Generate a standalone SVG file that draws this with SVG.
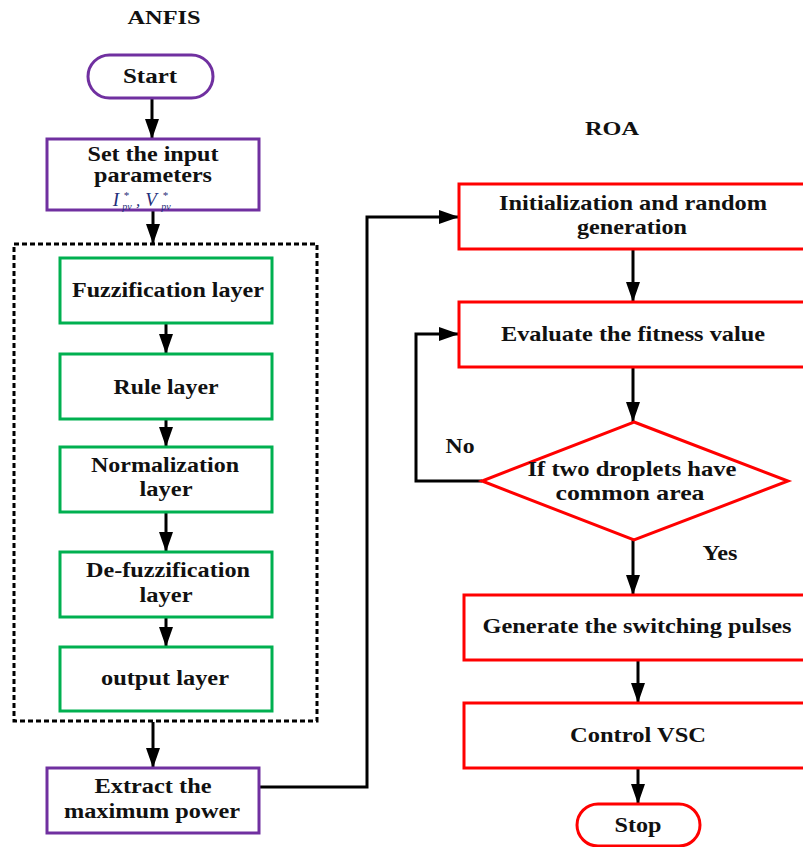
<svg xmlns="http://www.w3.org/2000/svg" width="803" height="847" viewBox="0 0 803 847">
<defs>
<marker id="ah" markerUnits="userSpaceOnUse" markerWidth="20" markerHeight="14" refX="20" refY="7" orient="auto">
<path d="M0,0 L20,7 L0,14 z" fill="#000"/>
</marker>
<style>
text{font-family:"Liberation Serif","Times New Roman",serif;font-weight:bold;fill:#111;text-anchor:middle}
.t{font-size:20px}
.r{font-size:21px}
.h{font-size:19px}
.pur{fill:#fff;stroke:#7030A0;stroke-width:3}
.grn{fill:#fff;stroke:#00B050;stroke-width:3}
.red{fill:#fff;stroke:#FF0000;stroke-width:3}
.dash{fill:none;stroke:#000;stroke-width:3;stroke-dasharray:5 3}
.c{fill:none;stroke:#000;stroke-width:3;marker-end:url(#ah)}
.m{font-family:"Liberation Serif","Times New Roman",serif;font-style:italic;font-weight:normal;fill:#1f2f7a}
</style>
</defs>
<rect width="803" height="847" fill="#fff"/>
<text class="h" x="164" y="24" textLength="73" lengthAdjust="spacingAndGlyphs">ANFIS</text>
<text class="h" x="612" y="135" textLength="54" lengthAdjust="spacingAndGlyphs">ROA</text>

<g id="container">
<rect class="dash" x="14" y="244" width="303" height="477"/>
</g>

<g id="connectors">
<path class="c" d="M152,98 V139"/>
<path class="c" d="M153,210 V244"/>
<path class="c" d="M166,323 V354"/>
<path class="c" d="M166,419 V447"/>
<path class="c" d="M166,512 V552"/>
<path class="c" d="M166,617 V647"/>
<path class="c" d="M153,722 V768"/>
<path class="c" d="M259,787 H367 V217 H459"/>
<path class="c" d="M633,249 V302"/>
<path class="c" d="M633,367 V422"/>
<path class="c" d="M482,481 H416 V334 H459"/>
<path class="c" d="M633,540 V595"/>
<path class="c" d="M638,660 V703"/>
<path class="c" d="M638,768 V804"/>
</g>

<g id="start">
<rect class="pur" x="88" y="55" width="125" height="43" rx="21.5"/>
<text class="t" x="150" y="83" textLength="54" lengthAdjust="spacingAndGlyphs">Start</text>
</g>

<g id="set-input">
<rect class="pur" x="47" y="139" width="212" height="71"/>
<text class="t" x="153" y="161" textLength="131" lengthAdjust="spacingAndGlyphs">Set the input</text>
<text class="t" x="153" y="182" textLength="118" lengthAdjust="spacingAndGlyphs">parameters</text>
<text class="m" x="116" y="206" font-size="19">I</text>
<text class="m" x="126" y="199" font-size="11">*</text>
<text class="m" x="127" y="210" font-size="10">pv</text>
<text class="m" x="138" y="206" font-size="17">,</text>
<text class="m" x="151" y="206" font-size="19">V</text>
<text class="m" x="165" y="199" font-size="11">*</text>
<text class="m" x="166" y="210" font-size="10">pv</text>
</g>

<g id="fuzzification">
<rect class="grn" x="60" y="258" width="212" height="65"/>
<text class="t" x="168" y="297" textLength="192" lengthAdjust="spacingAndGlyphs">Fuzzification layer</text>
</g>

<g id="rule">
<rect class="grn" x="60" y="354" width="212" height="65"/>
<text class="t" x="166" y="394" textLength="105" lengthAdjust="spacingAndGlyphs">Rule layer</text>
</g>

<g id="normalization">
<rect class="grn" x="60" y="447" width="212" height="65"/>
<text class="t" x="165" y="472" textLength="148" lengthAdjust="spacingAndGlyphs">Normalization</text>
<text class="t" x="166" y="496" textLength="53" lengthAdjust="spacingAndGlyphs">layer</text>
</g>

<g id="defuzzification">
<rect class="grn" x="60" y="552" width="212" height="65"/>
<text class="t" x="168" y="577" textLength="164" lengthAdjust="spacingAndGlyphs">De-fuzzification</text>
<text class="t" x="166" y="602" textLength="53" lengthAdjust="spacingAndGlyphs">layer</text>
</g>

<g id="output">
<rect class="grn" x="60" y="647" width="212" height="64"/>
<text class="t" x="165" y="685" textLength="128" lengthAdjust="spacingAndGlyphs">output layer</text>
</g>

<g id="extract">
<rect class="pur" x="47" y="768" width="212" height="65"/>
<text class="t" x="153" y="793" textLength="117" lengthAdjust="spacingAndGlyphs">Extract the</text>
<text class="t" x="152" y="818" textLength="176" lengthAdjust="spacingAndGlyphs">maximum power</text>
</g>

<g id="init">
<rect class="red" x="459" y="184" width="350" height="65"/>
<text class="r" x="633" y="210" textLength="268" lengthAdjust="spacingAndGlyphs">Initialization and random</text>
<text class="r" x="632" y="234" textLength="110" lengthAdjust="spacingAndGlyphs">generation</text>
</g>

<g id="evaluate">
<rect class="red" x="459" y="302" width="350" height="65"/>
<text class="r" x="633" y="341" textLength="264" lengthAdjust="spacingAndGlyphs">Evaluate the fitness value</text>
</g>

<g id="decision">
<polygon class="red" points="634,422 788,481 634,540 482,481"/>
<text class="r" x="632" y="476" textLength="209" lengthAdjust="spacingAndGlyphs">If two droplets have</text>
<text class="r" x="630" y="500" textLength="149" lengthAdjust="spacingAndGlyphs">common area</text>
</g>

<g id="labels">
<text class="r" x="460" y="453" textLength="29" lengthAdjust="spacingAndGlyphs">No</text>
<text class="r" x="720" y="560" textLength="35" lengthAdjust="spacingAndGlyphs">Yes</text>
</g>

<g id="generate">
<rect class="red" x="464" y="595" width="345" height="65"/>
<text class="r" x="637" y="633" textLength="309" lengthAdjust="spacingAndGlyphs">Generate the switching pulses</text>
</g>

<g id="control">
<rect class="red" x="464" y="703" width="345" height="65"/>
<text class="r" x="638" y="742" textLength="136" lengthAdjust="spacingAndGlyphs">Control VSC</text>
</g>

<g id="stop">
<rect class="red" x="577" y="804" width="123" height="42" rx="21"/>
<text class="r" x="638" y="832" textLength="47" lengthAdjust="spacingAndGlyphs">Stop</text>
</g>
</svg>
